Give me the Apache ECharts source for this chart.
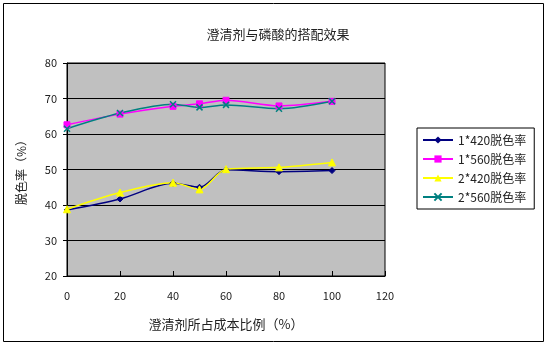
<!DOCTYPE html>
<html><head><meta charset="utf-8">
<script src="https://cdn.jsdelivr.net/npm/echarts@6/dist/echarts.min.js"></script>
<style>html,body{margin:0;padding:0;background:#fff}#c{width:547px;height:346px}</style>
</head><body><div id="c"></div>
<script>
const xVals = [0, 20, 40, 50, 60, 80, 100];
const s1_420 = [38.6, 41.7, 46.1, 45.0, 49.9, 49.4, 49.7];
const s1_560 = [62.6, 65.6, 67.8, 68.5, 69.5, 67.9, 69.2];
const s2_420 = [38.8, 43.5, 46.3, 44.4, 50.1, 50.6, 52.0];
const s2_560 = [61.5, 65.9, 68.4, 67.5, 68.2, 67.1, 69.2];
const names = ['1*420脱色率', '1*560脱色率', '2*420脱色率', '2*560脱色率'];
const title = '澄清剂与磷酸的搭配效果';
const xName = '澄清剂所占成本比例（%）';
const yName = '脱色率（%）';

const FF = '"Noto Sans CJK SC", sans-serif';
const xShape = 'path://M0,0 L10,10 M10,0 L0,10';
function pts(v){ return xVals.map((x,i)=>[x, v[i]]); }
function ser(name, data, color, symbol, size, extra){
  return Object.assign({
    name, type:'line', data: pts(data), smooth: 0.3,
    symbol, symbolSize: size,
    lineStyle:{color, width:1.5},
    itemStyle:{color, borderColor: color},
    emphasis:{disabled:true}
  }, extra||{});
}
const chart = echarts.init(document.getElementById('c'));
chart.setOption({
  animation:false,
  backgroundColor:'#fff',
  title:{text:title, left:273, top:23, textAlign:'center',
    textStyle:{fontFamily:FF, fontSize:13, fontWeight:'normal', color:'#222'}},
  graphic:[{type:'rect', shape:{x:3.5,y:3.5,width:540,height:338}, style:{fill:'none', stroke:'#000', lineWidth:1}, silent:true}],
  grid:{left:67, right:162, top:63, bottom:70, show:true, backgroundColor:'#C0C0C0', borderColor:'#000', borderWidth:1},
  legend:{orient:'vertical', left:417, top:128, padding:[4,8,4,5], itemGap:3, itemWidth:30, itemHeight:9,
    borderColor:'#000', borderWidth:1, backgroundColor:'#fff',
    textStyle:{fontFamily:FF, fontSize:12, color:'#222', lineHeight:16},
    data: names},
  xAxis:{type:'value', min:0, max:120, interval:20,
    name:xName, nameLocation:'middle', nameGap:42,
    nameTextStyle:{fontFamily:FF, fontSize:13, color:'#222'},
    axisLine:{lineStyle:{color:'#000'}},
    axisTick:{inside:true, length:5, lineStyle:{color:'#000'}},
    axisLabel:{fontFamily:FF, fontSize:11, color:'#222', margin:14},
    splitLine:{show:false}},
  yAxis:{type:'value', min:20, max:80, interval:10,
    name:yName, nameLocation:'middle', nameGap:40, nameRotate:90,
    nameTextStyle:{fontFamily:FF, fontSize:12, color:'#222'},
    axisLine:{show:true, lineStyle:{color:'#000'}},
    axisTick:{show:true, length:4, lineStyle:{color:'#000'}},
    axisLabel:{fontFamily:FF, fontSize:11, color:'#222', margin:10},
    splitLine:{show:true, lineStyle:{color:'#000', width:1}}},
  series:[
    ser(names[0], s1_420, '#000080', 'diamond', 6),
    ser(names[1], s1_560, '#FF00FF', 'rect', 6),
    ser(names[2], s2_420, '#FFFF00', 'triangle', 7),
    ser(names[3], s2_560, '#008080', xShape, 6, {itemStyle:{color:'none', borderColor:'#008080', borderWidth:1.5}})
  ]
});
</script></body></html>
